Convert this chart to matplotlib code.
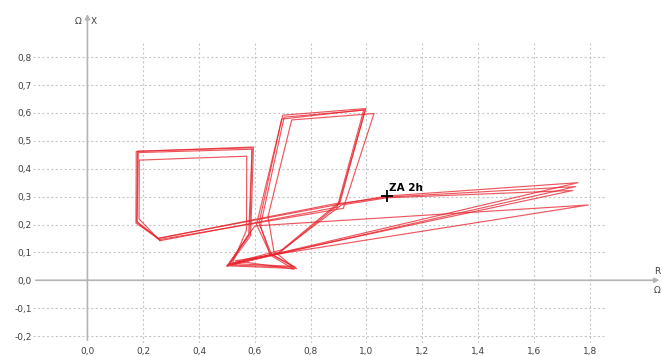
import matplotlib.pyplot as plt
from matplotlib.ticker import FuncFormatter

# impedance trajectory, several swing cycles (R, X in Ohm)
r_cycle1 = [0.250, 0.900, 0.998, 0.700, 0.606, 0.654, 0.745, 0.505, 1.758, 1.072, 0.900, 0.690, 0.510, 0.585, 0.595, 0.175, 0.174, 0.254]
x_cycle1 = [0.150, 0.272, 0.616, 0.592, 0.200, 0.097, 0.047, 0.055, 0.350, 0.302, 0.272, 0.100, 0.058, 0.160, 0.478, 0.462, 0.205, 0.150]

r_cycle2 = [0.254, 0.905, 0.995, 0.696, 0.615, 0.660, 0.750, 0.500, 1.750, 1.070, 0.895, 0.680, 0.505, 0.578, 0.590, 0.182, 0.178, 0.258]
x_cycle2 = [0.150, 0.278, 0.612, 0.578, 0.205, 0.092, 0.042, 0.052, 0.336, 0.298, 0.274, 0.095, 0.052, 0.165, 0.470, 0.458, 0.210, 0.146]

r_cycle3 = [0.258, 0.917, 1.027, 0.732, 0.647, 0.668, 0.735, 0.515, 1.740, 1.075, 0.910, 0.700, 0.520, 0.570, 0.571, 0.186, 0.185, 0.260]
x_cycle3 = [0.146, 0.258, 0.598, 0.575, 0.228, 0.105, 0.050, 0.060, 0.322, 0.296, 0.270, 0.110, 0.062, 0.180, 0.445, 0.431, 0.220, 0.142]

r_cycle4 = [0.260, 0.895, 0.990, 0.705, 0.620, 0.655, 0.740, 0.530, 1.795, 0.600, 0.500, 0.582, 0.590, 0.180, 0.177, 0.250]
x_cycle4 = [0.142, 0.262, 0.610, 0.585, 0.195, 0.090, 0.040, 0.070, 0.270, 0.195, 0.050, 0.165, 0.475, 0.463, 0.208, 0.152]

cycles = [(r_cycle1, x_cycle1), (r_cycle2, x_cycle2), (r_cycle3, x_cycle3), (r_cycle4, x_cycle4)]

marker_r, marker_x = 1.072, 0.302
marker_label = 'ZA 2h'

x_ticks = [0.0, 0.2, 0.4, 0.6, 0.8, 1.0, 1.2, 1.4, 1.6, 1.8]
y_ticks = [-0.2, -0.1, 0.0, 0.1, 0.2, 0.3, 0.4, 0.5, 0.6, 0.7, 0.8]

fig = plt.figure(figsize=(6.62, 3.56), dpi=100)
ax = fig.add_axes([33/662, 13/356, 574/662, 300/356])
ax.set_xlim(-0.195, 1.862)
ax.set_ylim(-0.225, 0.851)

for s in ax.spines.values():
    s.set_visible(False)

fmt = FuncFormatter(lambda v, p: f'{v:.1f}'.replace('.', ','))
ax.set_xticks(x_ticks)
ax.set_yticks(y_ticks)
ax.xaxis.set_major_formatter(fmt)
ax.yaxis.set_major_formatter(fmt)
ax.tick_params(length=0, labelsize=6.5, labelcolor='#404040', pad=3)
ax.tick_params(axis='y', pad=1)

for t in x_ticks:
    if t != 0:
        ax.axvline(t, color='#c8c8c8', lw=0.8, ls=(0, (2, 2)), zorder=0)
for t in y_ticks:
    if t != 0:
        ax.axhline(t, color='#c8c8c8', lw=0.8, ls=(0, (2, 2)), zorder=0)

# axes with arrows
ax.annotate('', xy=(2.06, 0), xytext=(-0.195, 0), annotation_clip=False,
            arrowprops=dict(arrowstyle='-|>', color='#b4b4b4', lw=1.2, mutation_scale=7))
ax.annotate('', xy=(0, 0.965), xytext=(0, -0.225), annotation_clip=False,
            arrowprops=dict(arrowstyle='-|>', color='#b4b4b4', lw=1.2, mutation_scale=7))
ax.text(-0.034, 0.928, 'Ω', fontsize=6.5, color='#404040', ha='center', va='center', clip_on=False)
ax.text(0.023, 0.928, 'X', fontsize=6.5, color='#404040', ha='center', va='center', clip_on=False)
ax.text(2.041, 0.03, 'R', fontsize=6.5, color='#404040', ha='center', va='center', clip_on=False)
ax.text(2.041, -0.035, 'Ω', fontsize=6.5, color='#404040', ha='center', va='center', clip_on=False)

for r, x in cycles:
    ax.plot(r, x, color='#e8202a', lw=0.85, alpha=0.75, zorder=2)

ax.plot(marker_r, marker_x, marker='+', color='black', markersize=8, mew=1.3, zorder=3)
ax.text(marker_r + 0.008, marker_x + 0.012, marker_label, fontsize=7.5, fontweight='bold',
        color='black', ha='left', va='bottom', zorder=3)

plt.savefig('out.png', dpi=100)
